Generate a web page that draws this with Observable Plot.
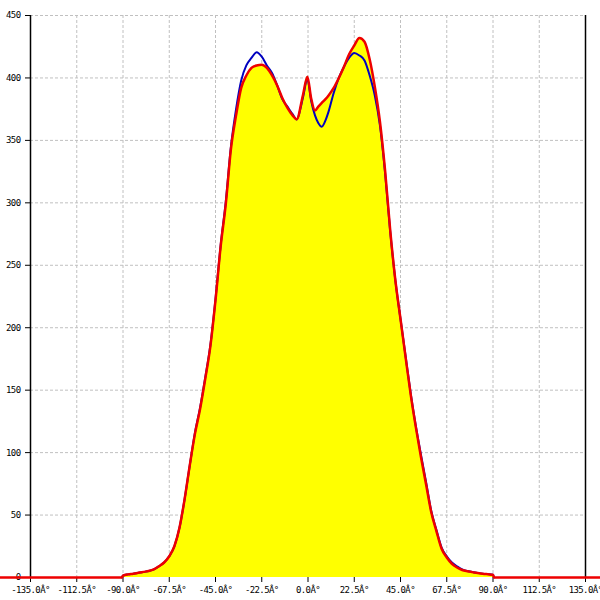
<!DOCTYPE html>
<html><head><meta charset="utf-8">
<script src="https://cdn.jsdelivr.net/npm/d3@7"></script>
<script src="https://cdn.jsdelivr.net/npm/@observablehq/plot@0.6"></script>
<style>body{margin:0;background:#fff}</style>
</head><body><div id="chart"></div>
<script>
const angles = [-150, -90.5, -90, -87.5, -85, -82.5, -80, -77.5, -75, -72.5, -70, -67.5, -65, -62.5, -60, -57.5, -55, -52.5, -50, -47.5, -45, -42.5, -40, -37.5, -35, -32.5, -30, -27.5, -25, -22.5, -20, -17.5, -15, -12.5, -10, -7.5, -5.5, -2.5, -0.3, 1.5, 3.4, 5, 6.7, 8.5, 10, 12.5, 15, 17.5, 20, 22.5, 25, 27.5, 30, 32.5, 35, 37.5, 40, 42.5, 45, 47.5, 50, 52.5, 55, 57.5, 60, 62.5, 65, 67.5, 70, 72.5, 75, 77.5, 80, 82.5, 85, 87.5, 90, 90.5, 150];
const redValues = [0, 0, 1.5, 2.5, 3, 3.8, 4.5, 5.2, 6.5, 9, 12, 17, 25, 40, 63, 90, 115, 135, 159, 185, 222, 265, 299, 343, 370, 392, 402, 408, 410, 410.5, 408, 402, 394, 384, 376, 370, 367, 386, 401, 384, 374, 377, 380, 383, 386, 392, 400, 409, 419, 426, 432, 429, 415, 393, 365, 326, 278, 238, 207, 176, 146, 120, 96, 74, 52, 37, 23, 16, 11, 8, 6, 5, 4.3, 3.6, 3, 2.6, 2.2, 0, 0];
const blueValues = [0, 0, 1.5, 2.5, 3, 3.8, 4.5, 5.2, 6.5, 9, 12, 17, 25, 40, 63, 90, 116, 136, 160, 186, 223, 266, 301, 345, 375, 398, 410, 416, 420.5, 417, 410, 404, 394, 383, 377, 371, 366.7, 384, 399, 382, 370, 364, 361, 366, 373, 388, 400, 409, 416, 420, 418, 414, 402, 386, 362, 324, 277, 238, 207, 177, 147, 121, 98, 76, 53, 38, 24, 17, 12, 9, 6.5, 5.2, 4.4, 3.7, 3.1, 2.7, 2.3, 0, 0];
const xTicks = [-135, -112.5, -90, -67.5, -45, -22.5, 0, 22.5, 45, 67.5, 90, 112.5, 135];
const xTickLabels = ["-135.0Â°", "-112.5Â°", "-90.0Â°", "-67.5Â°", "-45.0Â°", "-22.5Â°", "0.0Â°", "22.5Â°", "45.0Â°", "67.5Â°", "90.0Â°", "112.5Â°", "135.0Â°"];
const yTicks = [0, 50, 100, 150, 200, 250, 300, 350, 400, 450];
const yTickLabels = ["0", "50", "100", "150", "200", "250", "300", "350", "400", "450"];

const data = angles.map((a, i) => ({angle: a, red: redValues[i], blue: blueValues[i]}));
const areaData = data.filter(d => d.angle >= -135 && d.angle <= 135);
const blueData = data.filter(d => d.angle >= -91 && d.angle <= 91);

const chart = Plot.plot({
  width: 600,
  height: 600,
  marginLeft: 30,
  marginRight: 15,
  marginTop: 15,
  marginBottom: 23,
  x: {domain: [-135, 135]},
  y: {domain: [0, 450]},
  style: {fontFamily: "DejaVu Sans Mono", fontSize: "9px", letterSpacing: "-0.6px", background: "#fff", color: "#000"},
  marks: [
    Plot.gridX(xTicks.slice(1, -1), {stroke: "#c0c0c0", strokeOpacity: 1, strokeDasharray: "3,2"}),
    Plot.gridY(yTicks.slice(1), {stroke: "#c0c0c0", strokeOpacity: 1, strokeDasharray: "3,2"}),
    Plot.areaY(areaData, {x: "angle", y: "red", fill: "#ffff00", curve: "monotone-x"}),
    Plot.ruleX([-135, 135], {stroke: "#000", strokeWidth: 1.5}),
    Plot.axisX({ticks: xTicks, tickFormat: d => xTickLabels[xTicks.indexOf(d)], tickSize: 5, tickPadding: 4, label: null, stroke: "#000"}),
    Plot.axisY({ticks: yTicks, tickFormat: d => yTickLabels[yTicks.indexOf(d)], tickSize: 5, tickPadding: 5, label: null, stroke: "#000"}),
    Plot.lineY(blueData, {x: "angle", y: "blue", stroke: "#0000c0", strokeWidth: 2, curve: "monotone-x"}),
    Plot.lineY(data, {x: "angle", y: "red", stroke: "#ee0000", strokeWidth: 2.5, curve: "monotone-x"})
  ]
});
document.getElementById("chart").appendChild(chart);
</script>
</body></html>
